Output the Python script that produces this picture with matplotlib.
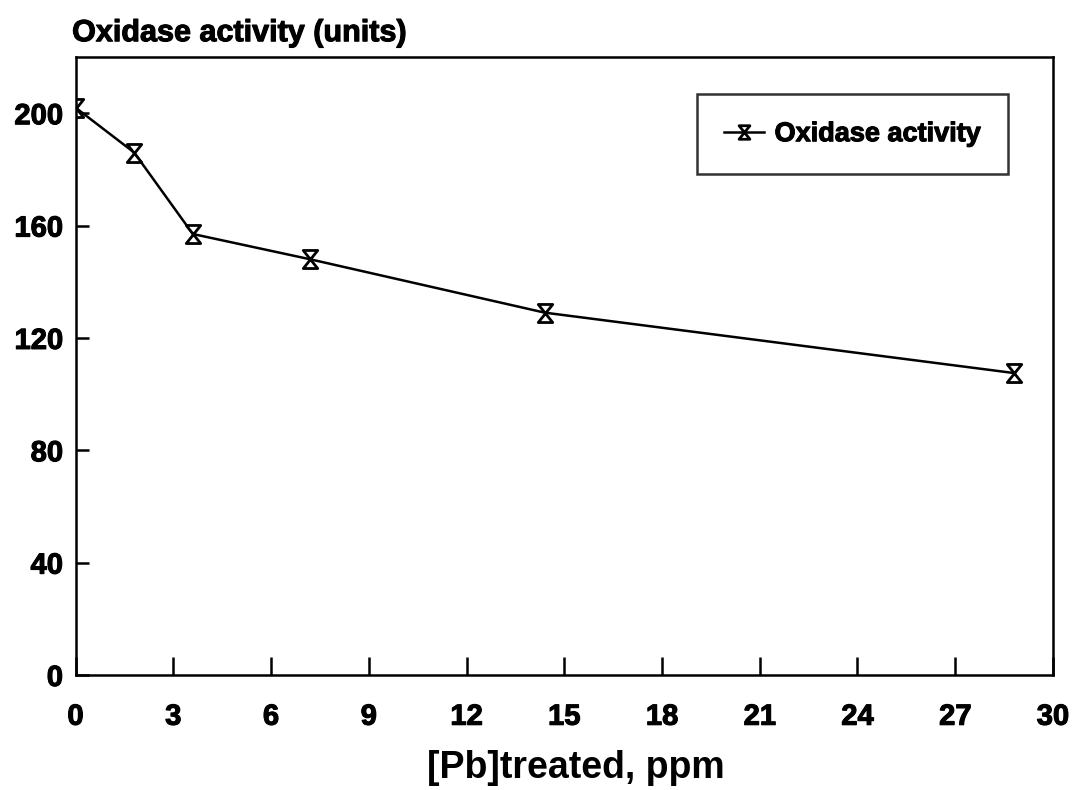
import matplotlib
matplotlib.use("Agg")
import matplotlib.pyplot as plt
from matplotlib.path import Path
import matplotlib.patheffects as pe

pb_ppm = [0, 1.8, 3.6, 7.2, 14.4, 28.8]
oxidase = [202, 186, 157, 148, 129, 107.5]
x_ticks = [0, 3, 6, 9, 12, 15, 18, 21, 24, 27, 30]
y_ticks = [0, 40, 80, 120, 160, 200]

heavy = [pe.withStroke(linewidth=0.8, foreground="black")]

hourglass = Path([(-0.8, 1), (0.8, 1), (-0.8, -1), (0.8, -1), (-0.8, 1)],
                 [Path.MOVETO, Path.LINETO, Path.LINETO, Path.LINETO, Path.CLOSEPOLY])

fig = plt.figure(figsize=(10.76, 7.9), dpi=100)
ax = fig.add_axes([0.0702, 0.1456, 0.9084, 0.7822])

ax.plot(pb_ppm, oxidase, color="black", lw=1.8, marker=hourglass, ms=13,
        mfc="white", mec="black", mew=2.0, label="Oxidase activity")

ax.set_xlim(0, 30)
ax.set_ylim(0, 220)
ax.set_xticks(x_ticks)
ax.set_yticks(y_ticks)
for s in ax.spines.values():
    s.set_linewidth(1.8)
ax.tick_params(axis="x", direction="in", length=13, width=1.8, pad=20)
ax.tick_params(axis="y", direction="in", length=9, width=1.8, pad=9)
for lab in ax.get_xticklabels() + ax.get_yticklabels():
    lab.set_fontfamily("Liberation Sans")
    lab.set_fontweight("bold")
    lab.set_fontsize(21)
    lab.set_path_effects(heavy)

fig.text(0.067, 0.958, "Oxidase activity (units)", fontsize=22, fontweight="bold",
         family="Liberation Sans", ha="left", va="center", path_effects=heavy)
fig.text(0.535, 0.028, "[Pb]treated, ppm", fontsize=27, fontweight="bold",
         family="Liberation Sans", ha="center", va="center")

leg = ax.legend(loc="upper right", bbox_to_anchor=(0.954, 0.940), borderaxespad=0,
                frameon=True, fancybox=False, edgecolor="black", borderpad=1.0,
                handlelength=1.45, handletextpad=0.4, markerscale=0.75,
                prop={"family": "Liberation Sans", "weight": "bold", "size": 19.5})
leg.get_frame().set_linewidth(1.8)
for t in leg.get_texts():
    t.set_path_effects(heavy)

fig.savefig("out.png", dpi=100)
